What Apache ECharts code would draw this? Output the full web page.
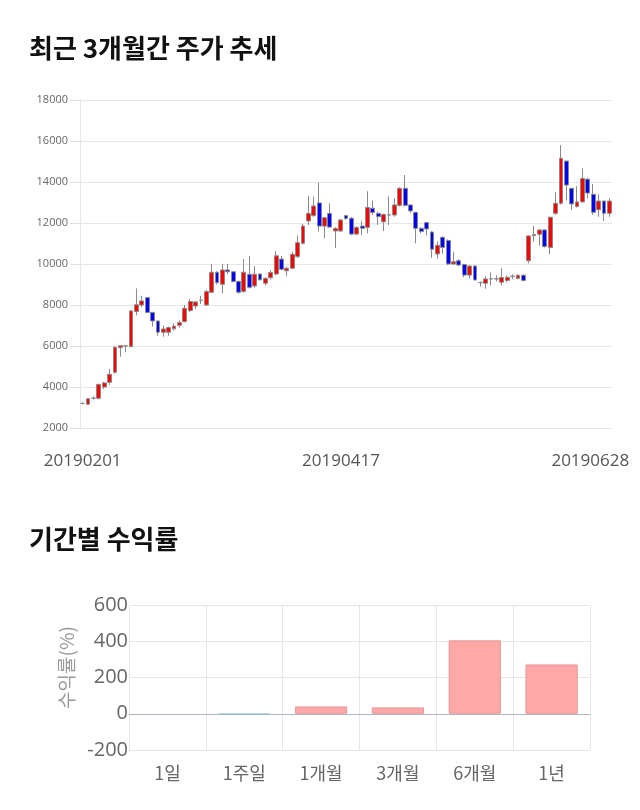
<!DOCTYPE html>
<html>
<head>
<meta charset="utf-8">
<script src="https://cdn.jsdelivr.net/npm/echarts@6/dist/echarts.min.js"></script>
<style>
html,body{margin:0;padding:0;background:#fff;}
#c{width:640px;height:810px;}
</style>
</head>
<body>
<div id="c"></div>
<script>
var dates = ['20190201','20190207','20190208','20190211','20190212','20190213','20190214','20190215','20190218','20190219','20190220','20190221','20190222','20190225','20190226','20190227','20190228',
'20190304','20190305','20190306','20190307','20190308','20190311','20190312','20190313','20190314','20190315','20190318','20190319','20190320','20190321','20190322','20190325','20190326','20190327','20190328','20190329',
'20190401','20190402','20190403','20190404','20190405','20190408','20190409','20190410','20190411','20190412','20190415','20190416','20190417','20190418','20190419','20190422','20190423','20190424','20190425','20190426','20190429','20190430',
'20190502','20190503','20190507','20190508','20190509','20190510','20190513','20190514','20190515','20190516','20190517','20190520','20190521','20190522','20190523','20190524','20190527','20190528','20190529','20190530','20190531',
'20190603','20190604','20190605','20190607','20190610','20190611','20190612','20190613','20190614','20190617','20190618','20190619','20190620','20190621','20190624','20190625','20190626','20190627','20190628'];

var opens  = [3200,3160,3450,3450,4000,4230,4720,5920,6000,5970,7680,8000,8360,7640,7220,6670,6670,6840,7010,7190,7730,7950,8230,8000,8620,9600,9010,9710,9620,9150,8660,9500,8930,9510,9060,9330,9510,10240,9670,9790,10360,11010,12100,12360,12980,11850,12470,11610,11610,12360,12230,11460,11850,11790,12720,12470,12060,12390,12390,12860,13690,12880,12520,11740,12020,11560,10490,11300,11150,10000,10160,9980,9460,9900,9090,9060,9270,9270,9110,9200,9400,9300,9450,10160,11380,11450,11660,10810,12470,12960,15020,13690,12810,13030,14140,13400,12650,13070,12470];
var closes = [3200,3430,3460,4130,4200,4620,5940,6010,6010,7710,8010,8200,7640,7220,6670,6830,6900,6970,7140,7840,8170,8150,8240,8660,9600,9090,9710,9620,9150,8620,9600,8860,9500,9230,9300,9580,10400,9740,9790,10470,11040,11850,12470,12830,11850,12260,11800,11730,12150,12220,11460,11780,11740,12760,12510,12310,12420,12400,12880,13690,12860,12590,11740,11580,11710,10720,10910,10810,10000,10110,9950,9460,9900,9220,9100,9270,9280,9280,9340,9350,9410,9450,9200,11370,11440,11660,10850,12280,12960,15160,13850,12930,13030,14170,13460,12520,13070,12470,13070];
var lows   = [3150,3130,3380,3400,3900,4100,4650,5480,5700,5970,7500,7900,7600,6950,6500,6450,6500,6750,6900,7150,7650,7800,8050,7950,8600,9000,8580,9500,9100,8550,8600,8800,8850,9200,8950,9250,9450,9700,9400,9750,10300,10950,11900,12300,11580,11250,11750,10780,11550,12150,11400,11400,11400,11500,12400,11900,11600,11900,12300,12800,12800,12500,11010,11500,11400,10300,10250,10500,9950,9950,9900,9350,9300,9200,8900,8800,8950,9150,8950,9100,9250,9250,9150,10030,11100,10900,10800,10470,12400,12900,13100,12630,12750,13000,13200,12400,12300,12100,12300];
var highs  = [3250,3460,3550,4150,4250,4880,5980,6050,6050,7750,8810,8440,8380,7650,7250,7000,6950,7100,7250,8000,8300,8200,8450,8750,10000,9650,10000,10000,9650,9200,10240,10390,9900,9550,9350,9700,10630,10400,9850,10600,11390,11950,13320,13290,13970,12300,12960,11800,12200,12400,12300,11850,12100,13550,13100,12550,12450,13300,13200,13750,14340,12900,12550,11800,12050,11600,11100,11350,11200,10600,10250,10000,9950,9950,9150,9400,9600,9450,9800,9450,9500,9500,9500,11400,11850,11700,11700,12300,13500,15800,15050,13700,13800,14670,14200,13900,13400,13100,13200];
var priceTicks = [2000,18000,2000];

var periods = ['1일','1주일','1개월','3개월','6개월','1년'];
var returns = [0,-3,40,35,405,272];
var returnTicks = [-200,600,200];

var ohlc = dates.map(function(d,i){return [opens[i],closes[i],lows[i],highs[i]];});
var shown = [0,49,dates.length-1];
var FONT = 'Noto Sans CJK KR, Noto Sans, sans-serif';
var LAT = 'Open Sans, sans-serif';

var chart = echarts.init(document.getElementById('c'), null, {renderer:'canvas'});
chart.setOption({
  animation:false,
  backgroundColor:'#fff',
  title:[
    {text:'최근 3개월간 주가 추세',left:29,top:35,padding:0,textStyle:{fontSize:26,fontWeight:'bold',color:'#111',fontFamily:FONT}},
    {text:'기간별 수익률',left:29,top:526,padding:0,textStyle:{fontSize:26,fontWeight:'bold',color:'#111',fontFamily:FONT}}
  ],
  grid:[
    {left:80,right:28,top:100,height:328},
    {left:129,right:50,top:605,height:145}
  ],
  xAxis:[
    {type:'category',gridIndex:0,data:dates,boundaryGap:true,
     axisLine:{show:false},axisTick:{show:false},splitLine:{show:false},
     axisLabel:{interval:function(i){return shown.indexOf(i)>=0;},margin:25,fontSize:17,color:'#555',fontFamily:LAT,
       formatter:function(v,i){ if(i===dates.length-1) return '{r|'+v+'}'; if(i===49) return '{m|'+v+'}'; return v;},
       rich:{r:{padding:[0,38,0,0],fontSize:17,color:'#555',fontFamily:LAT},m:{padding:[0,10,0,0],fontSize:17,color:'#555',fontFamily:LAT}}}},
    {type:'category',gridIndex:1,data:periods,boundaryGap:true,
     axisLine:{show:true,onZero:true,lineStyle:{color:'#a9b6c2'}},axisTick:{show:false},
     splitLine:{show:true,lineStyle:{color:'#e6e6e6'}},
     axisLabel:{margin:14,fontSize:18,color:'#666',fontFamily:FONT}}
  ],
  yAxis:[
    {type:'value',gridIndex:0,min:priceTicks[0],max:priceTicks[1],interval:priceTicks[2],
     axisLine:{show:true,lineStyle:{color:'#e6e6e6'}},axisTick:{show:true,length:10,lineStyle:{color:'#e0e0e0'}},
     splitLine:{lineStyle:{color:'#e6e6e6'}},
     axisLabel:{margin:12,fontSize:11,color:'#666',fontFamily:LAT,formatter:function(v){return String(v);}}},
    {type:'value',gridIndex:1,min:returnTicks[0],max:returnTicks[1],interval:returnTicks[2],
     name:'수익률(%)',nameLocation:'middle',nameRotate:90,nameGap:34,
     nameTextStyle:{fontSize:19,color:'#999',fontFamily:FONT,padding:[0,0,0,20]},
     axisLine:{show:false},axisTick:{show:false},
     splitLine:{lineStyle:{color:'#e6e6e6'}},
     axisLabel:{margin:1,fontSize:20,color:'#666',fontFamily:LAT,formatter:function(v){return String(v);}}}
  ],
  series:[
    {type:'candlestick',xAxisIndex:0,yAxisIndex:0,data:ohlc,barWidth:'80%',
     itemStyle:{color:'#ff0000',color0:'#0000ff',borderColor:'#8a8a8a',borderColor0:'#8a8a8a',borderWidth:1}},
    {type:'bar',xAxisIndex:1,yAxisIndex:1,barWidth:'68%',
     data:returns.map(function(v){return {value:v,itemStyle:{color:v<0?'#b6d3e0':'#ffa8a8',borderColor:v<0?'#9fc0d0':'#e89696',borderWidth:v===0?0:1}};})}
  ]
});
</script>
</body>
</html>
